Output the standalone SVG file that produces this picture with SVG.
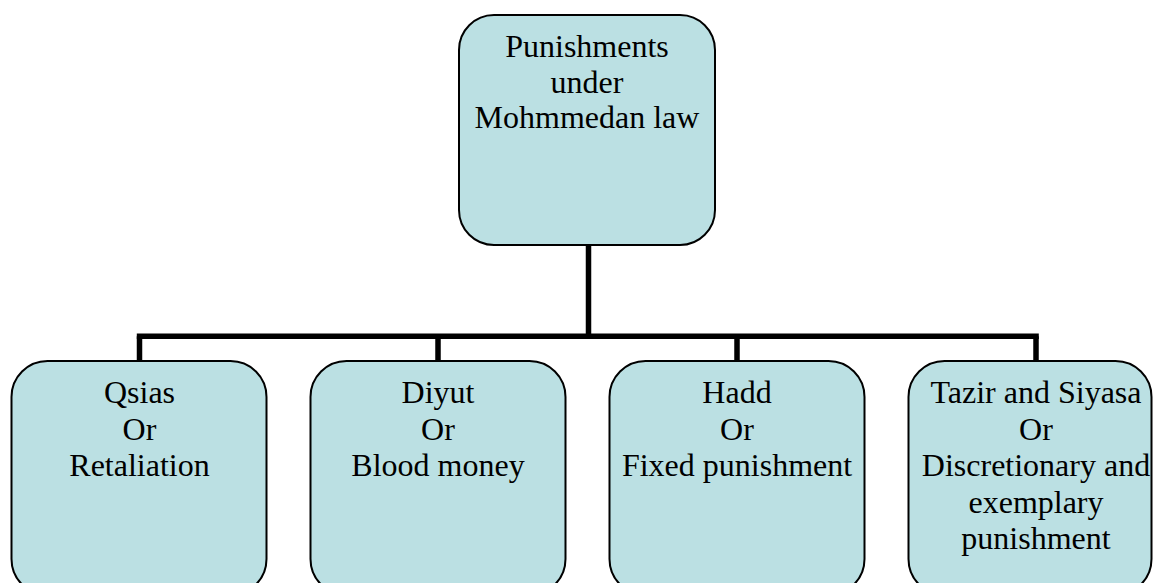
<svg xmlns="http://www.w3.org/2000/svg" width="1153" height="583" viewBox="0 0 1153 583">
  <style>
    .box { fill: #bbe0e3; stroke: #000; stroke-width: 2; }
    .label { font-family: "Liberation Serif", "Times New Roman", serif; font-size: 32px; fill: #000; text-anchor: middle; }
    .wire { fill: none; stroke: #000; stroke-width: 5.5; }
  </style>
  <rect width="1153" height="583" fill="#fff"/>

  <!-- connectors: root stem, bus bar and four drops -->
  <g id="connectors">
    <path class="wire" d="M588.5 245 V336.3"/>
    <path class="wire" d="M136.8 336.3 H1038.8"/>
    <path class="wire" d="M139.5 336.3 V361"/>
    <path class="wire" d="M438 336.3 V361"/>
    <path class="wire" d="M737 336.3 V361"/>
    <path class="wire" d="M1036 336.3 V361"/>
  </g>

  <g id="root">
    <rect class="box" x="459" y="15" width="256" height="230" rx="35" ry="35"/>
    <text class="label" x="587" y="57">Punishments</text>
    <text class="label" x="587" y="92.5">under</text>
    <text class="label" x="587" y="128">Mohmmedan law</text>
  </g>

  <g id="qisas">
    <rect class="box" x="11.5" y="361" width="255" height="234" rx="36" ry="36"/>
    <text class="label" x="139.5" y="403">Qsias</text>
    <text class="label" x="139.5" y="439.5">Or</text>
    <text class="label" x="139.5" y="476">Retaliation</text>
  </g>

  <g id="diyut">
    <rect class="box" x="310.5" y="361" width="255" height="234" rx="36" ry="36"/>
    <text class="label" x="438" y="403">Diyut</text>
    <text class="label" x="438" y="439.5">Or</text>
    <text class="label" x="438" y="476">Blood money</text>
  </g>

  <g id="hadd">
    <rect class="box" x="609.5" y="361" width="255" height="234" rx="36" ry="36"/>
    <text class="label" x="737" y="403">Hadd</text>
    <text class="label" x="737" y="439.5">Or</text>
    <text class="label" x="737" y="476">Fixed punishment</text>
  </g>

  <g id="tazir">
    <rect class="box" x="908.5" y="361" width="243" height="234" rx="36" ry="36"/>
    <text class="label" x="1036" y="403">Tazir and Siyasa</text>
    <text class="label" x="1036" y="439.5">Or</text>
    <text class="label" x="1036" y="476">Discretionary and</text>
    <text class="label" x="1036" y="512.5">exemplary</text>
    <text class="label" x="1036" y="549">punishment</text>
  </g>
</svg>
